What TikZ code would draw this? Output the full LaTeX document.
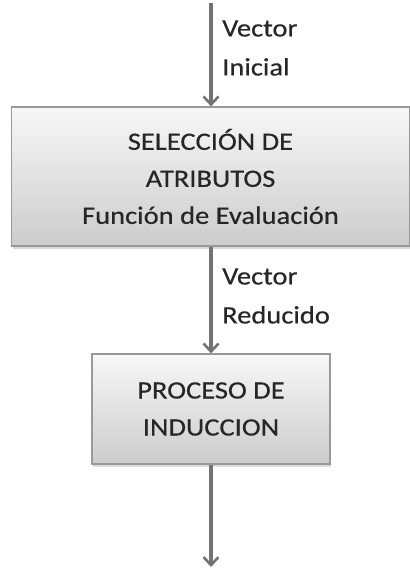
\documentclass[tikz,border=0pt]{standalone}
\usepackage{fontspec}
\setmainfont{Carlito}[FakeStretch=1.14,FakeBold=0.4]
\usetikzlibrary{arrows.meta,shadows}

\tikzset{
  flecha/.style={draw=black!55, line width=3.2pt, -{Straight Barb[length=8pt,width=15pt,line width=2.6pt]}},
  caja/.style={draw=black!40, line width=1.2pt, top color=gray!6, bottom color=gray!40,
    align=center, inner sep=0pt, font=\fontsize{25}{37}\selectfont, text=black!85,
    drop shadow={opacity=0.3, shadow xshift=1pt, shadow yshift=-2.5pt}},
  etiqueta/.style={anchor=west, align=left, inner sep=0pt, font=\fontsize{25}{39}\selectfont, text=black!85}
}

\begin{document}
\begin{tikzpicture}[x=1pt,y=-1pt]
\useasboundingbox (0,0) rectangle (409,569);

\coordinate (entrada) at (211,3);
\coordinate (salida) at (211,567);

\node[caja, minimum width=398pt, minimum height=139pt] (seleccion) at (210.5,176.5)
  {SELECCIÓN DE\\ATRIBUTOS\\Función de Evaluación};
\node[caja, minimum width=238pt, minimum height=110pt] (induccion) at (211,409)
  {PROCESO DE\\INDUCCION};

\draw[flecha] (entrada) -- (entrada |- seleccion.north);
\draw[flecha] (entrada |- seleccion.south) -- (induccion.north);
\draw[flecha] (induccion.south) -- (salida);

\node[etiqueta] (inicial) at (222,48) {Vector\\Inicial};
\node[etiqueta] (reducido) at (222,296) {Vector\\Reducido};
\end{tikzpicture}
\end{document}
